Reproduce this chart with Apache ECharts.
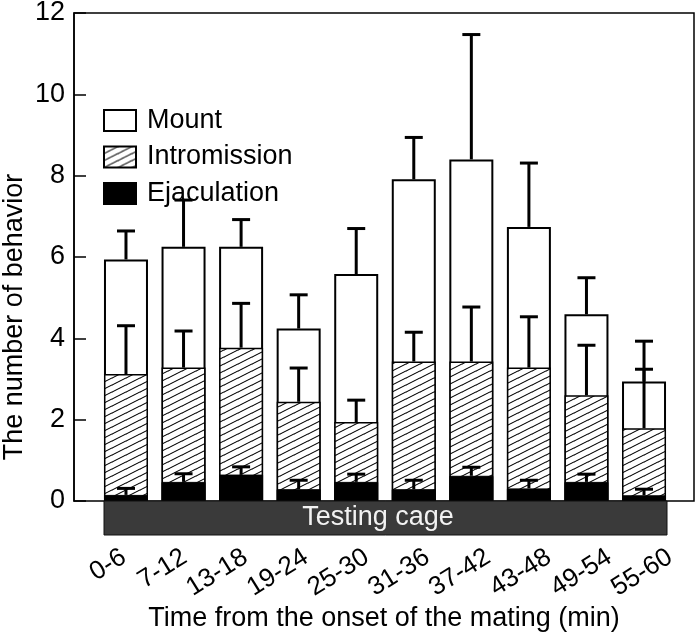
<!DOCTYPE html>
<html>
<head>
<meta charset="utf-8">
<script src="https://cdn.jsdelivr.net/npm/echarts@6/dist/echarts.min.js"></script>
<style>
html,body{margin:0;padding:0;background:#fff;}
#chart{width:699px;height:639px;}
</style>
</head>
<body>
<div id="chart"></div>
<script>
// ---- data ----
const categories = ['0-6','7-12','13-18','19-24','25-30','31-36','37-42','43-48','49-54','55-60'];
const mountMean  = [5.94, 6.25, 6.25, 4.24, 5.58, 7.91, 8.40, 6.74, 4.59, 2.94];
const mountSE    = [0.70, 1.15, 0.67, 0.83, 1.12, 1.03, 3.07, 1.57, 0.90, 0.99];
const introMean  = [3.12, 3.28, 3.77, 2.44, 1.94, 3.43, 3.43, 3.28, 2.60, 1.79];
const introSE    = [1.19, 0.90, 1.09, 0.83, 0.54, 0.72, 1.34, 1.25, 1.23, 1.45];
const ejacMean   = [0.15, 0.47, 0.65, 0.29, 0.47, 0.29, 0.62, 0.31, 0.47, 0.14];
const ejacSE     = [0.16, 0.20, 0.19, 0.22, 0.19, 0.22, 0.21, 0.20, 0.19, 0.15];
const yTicks = { min: 0, max: 12, interval: 2 };

// ---- hatch pattern ----
function hatch() {
  const W = 14, H = 7;
  const c = document.createElement('canvas');
  c.width = W; c.height = H;
  const g = c.getContext('2d');
  g.fillStyle = '#fff'; g.fillRect(0, 0, W, H);
  g.strokeStyle = '#000'; g.lineWidth = 1.1;
  for (const dx of [-W, 0, W]) for (const dy of [-H, 0, H]) {
    g.beginPath(); g.moveTo(dx, dy + H); g.lineTo(dx + W, dy); g.stroke();
  }
  return { image: c, repeat: 'repeat' };
}
const hatchFill = hatch();

const FONT = "'Liberation Sans', Arial, Helvetica, sans-serif";

function errData(mean, se) { return mean.map((m, i) => [i, m, m + se[i]]); }

function errRender(params, api) {
  const i = api.value(0);
  const p0 = api.coord([i, api.value(1)]);
  const p1 = api.coord([i, api.value(2)]);
  const half = 9;
  const st = { stroke: '#000', lineWidth: 3 };
  return {
    type: 'group',
    children: [
      { type: 'line', shape: { x1: p0[0], y1: p0[1], x2: p1[0], y2: p1[1] }, style: st },
      { type: 'line', shape: { x1: p1[0] - half, y1: p1[1], x2: p1[0] + half, y2: p1[1] }, style: st }
    ]
  };
}

const chart = echarts.init(document.getElementById('chart'), null, { renderer: 'canvas' });
const option = {
  backgroundColor: '#fff',
  animation: false,
  textStyle: { fontFamily: FONT, color: '#000' },
  grid: [
    { left: 74, right: 5, top: 13, bottom: 138, containLabel: false, outerBoundsMode: 'none',
      show: true, borderColor: '#000', borderWidth: 1.5, backgroundColor: 'transparent' },
    { left: 97.2, width: 575.6, top: 13, bottom: 138, containLabel: false, outerBoundsMode: 'none', show: false },
    // label-only grid: tick labels in the reference are spaced slightly wider than the bars
    { left: 93.6, width: 607, top: 13, bottom: 138, containLabel: false, outerBoundsMode: 'none', show: false }
  ],
  legend: {
    data: ['Mount', 'Intromission', 'Ejaculation'],
    orient: 'vertical', left: 103, top: 107, padding: 0,
    itemWidth: 32, itemHeight: 21, itemGap: 9.5, icon: 'rect',
    textStyle: { fontFamily: FONT, fontSize: 27, color: '#000', lineHeight: 21, padding: [0, 0, 0, 6] }
  },
  xAxis: [
    { type: 'value', gridIndex: 0, min: 0, max: 1,
      axisLine: { show: false }, axisTick: { show: false }, axisLabel: { show: false }, splitLine: { show: false },
      name: 'Time from the onset of the mating (min)', nameLocation: 'middle', nameGap: 104,
      nameTextStyle: { fontFamily: FONT, fontSize: 27, color: '#000' } },
    { type: 'category', gridIndex: 1, data: categories,
      axisLine: { show: false }, axisTick: { show: false }, axisLabel: { show: false } },
    { type: 'category', gridIndex: 2, data: categories,
      axisLine: { show: false }, axisTick: { show: false },
      axisLabel: { interval: 0, rotate: 32, fontFamily: FONT, fontSize: 26, color: '#000', margin: 54 } }
  ],
  yAxis: [
    { type: 'value', gridIndex: 0, min: yTicks.min, max: yTicks.max, interval: yTicks.interval,
      axisLine: { show: true, lineStyle: { color: '#000', width: 1.5 } },
      axisTick: { show: true, inside: true, length: 12, lineStyle: { color: '#000', width: 1.5 } },
      axisLabel: { fontFamily: FONT, fontSize: 27, color: '#000', margin: 9 },
      splitLine: { show: false } },
    { type: 'value', gridIndex: 1, min: yTicks.min, max: yTicks.max, show: false },
    { type: 'value', gridIndex: 2, min: yTicks.min, max: yTicks.max, show: false }
  ],
  series: [
    { name: 'Mount', type: 'bar', xAxisIndex: 1, yAxisIndex: 1, data: mountMean, barWidth: 44, barGap: '-100%',
      itemStyle: { color: '#fff', borderColor: '#000', borderWidth: 2 }, z: 2 },
    { name: 'Intromission', type: 'bar', xAxisIndex: 1, yAxisIndex: 1, data: introMean, barWidth: 44, barGap: '-100%',
      itemStyle: { color: hatchFill, borderColor: '#000', borderWidth: 1.5 }, z: 3 },
    { name: 'Ejaculation', type: 'bar', xAxisIndex: 1, yAxisIndex: 1, data: ejacMean, barWidth: 44, barGap: '-100%',
      itemStyle: { color: '#000', borderColor: '#000', borderWidth: 1 }, z: 4 },
    { type: 'custom', xAxisIndex: 1, yAxisIndex: 1, data: errData(mountMean, mountSE), renderItem: errRender, z: 5, silent: true },
    { type: 'custom', xAxisIndex: 1, yAxisIndex: 1, data: errData(introMean, introSE), renderItem: errRender, z: 5, silent: true },
    { type: 'custom', xAxisIndex: 1, yAxisIndex: 1, data: errData(ejacMean, ejacSE), renderItem: errRender, z: 5, silent: true }
  ],
  graphic: [
    { type: 'rect', z: 10, shape: { x: 104, y: 501, width: 563, height: 34 },
      style: { fill: '#3a3a3a', stroke: '#111', lineWidth: 1 } },
    { type: 'text', z: 11, x: 378, y: 518,
      style: { text: 'Testing cage', fill: '#f2f2f2', font: "27px " + FONT, align: 'center', verticalAlign: 'middle' } },
    { type: 'text', z: 11, x: 15, y: 317, rotation: Math.PI / 2,
      style: { text: 'The number of behavior', fill: '#000', font: "27px " + FONT, align: 'center', verticalAlign: 'middle' } }
  ]
};
chart.setOption(option);
</script>
</body>
</html>
